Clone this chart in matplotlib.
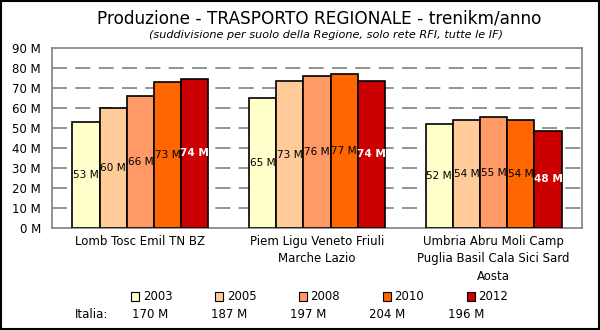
import numpy as np
import matplotlib
matplotlib.use("Agg")
import matplotlib.pyplot as plt
from matplotlib.patches import Patch, Rectangle

plt.rcParams['font.family'] = ['DejaVu Sans']

gruppi = ["Lomb Tosc Emil TN BZ",
          "Piem Ligu Veneto Friuli\nMarche Lazio",
          "Umbria Abru Moli Camp\nPuglia Basil Cala Sici Sard\nAosta"]
anni = ["2003", "2005", "2008", "2010", "2012"]
valori = {
    "2003": [53.0, 64.8, 52.0],
    "2005": [60.2, 73.5, 54.0],
    "2008": [66.2, 76.0, 55.5],
    "2010": [73.1, 77.1, 54.0],
    "2012": [74.5, 73.6, 48.5],
}
etichette = {
    "2003": ["53 M", "65 M", "52 M"],
    "2005": ["60 M", "73 M", "54 M"],
    "2008": ["66 M", "76 M", "55 M"],
    "2010": ["73 M", "77 M", "54 M"],
    "2012": ["74 M", "74 M", "48 M"],
}
italia = ["170 M", "187 M", "197 M", "204 M", "196 M"]
colori = ["#FFFFCC", "#FFCC99", "#FF9966", "#FF6600", "#CC0000"]

W, H = 600, 330
fig = plt.figure(figsize=(6, 3.3), dpi=100)
ax = fig.add_axes([52 / W, (H - 228) / H, 530 / W, 180 / H])

x = np.arange(len(gruppi))
bw = 0.154
for i, anno in enumerate(anni):
    pos = x + (i - 2) * bw
    bars = ax.bar(pos, valori[anno], width=bw, color=colori[i],
                  edgecolor="black", linewidth=1.2, zorder=3)
    for b, lab in zip(bars, etichette[anno]):
        ultimo = anno == "2012"
        ax.text(b.get_x() + b.get_width() / 2, b.get_height() / 2, lab,
                ha="center", va="center", fontsize=7.6,
                color="white" if ultimo else "black",
                fontweight="bold" if ultimo else "normal", zorder=4)

ax.set_xlim(-0.5, 2.5)
ax.set_ylim(0, 90)
ax.set_yticks(np.arange(0, 91, 10))
ax.set_yticklabels([f"{v} M" for v in range(0, 91, 10)], fontsize=8.5)
ax.set_xticks(x)
ax.set_xticklabels(gruppi, fontsize=8.5, linespacing=1.45, va="top")
ax.tick_params(axis="x", length=0, pad=5)
ax.tick_params(axis="y", length=0, pad=8)
for v in range(10, 90, 10):
    ax.axhline(v, color="#808080", linewidth=1.2, dashes=(9, 5), zorder=1)
for s in ax.spines.values():
    s.set_color("#808080")
    s.set_linewidth(1.2)

fig.text(0.532, 0.945, "Produzione - TRASPORTO REGIONALE - trenikm/anno",
         ha="center", va="center", fontsize=12.2)
fig.text(0.543, 0.893, "(suddivisione per suolo della Regione, solo rete RFI, tutte le IF)",
         ha="center", va="center", fontsize=8.1, style="italic")

handles = [Patch(facecolor=c, edgecolor="black", linewidth=0.8) for c in colori]
fig.legend(handles, anni, ncol=5, loc="center left",
           bbox_to_anchor=(125 / W, 1 - 297 / H), frameon=False,
           fontsize=8.5, handlelength=0.7, handleheight=0.7,
           handletextpad=0.3, columnspacing=3.6, borderpad=0)

fig.text(75 / W, 1 - 315 / H, "Italia:", ha="left", va="center", fontsize=8.5)
for i, t in enumerate(italia):
    fig.text((150 + i * 79) / W, 1 - 315 / H, t, ha="center", va="center", fontsize=8.5)

fig.patches.append(Rectangle((0.001, 0.002), 0.997, 0.995, transform=fig.transFigure,
                             fill=False, edgecolor="black", linewidth=1.5))

fig.savefig("out.png", dpi=100)
